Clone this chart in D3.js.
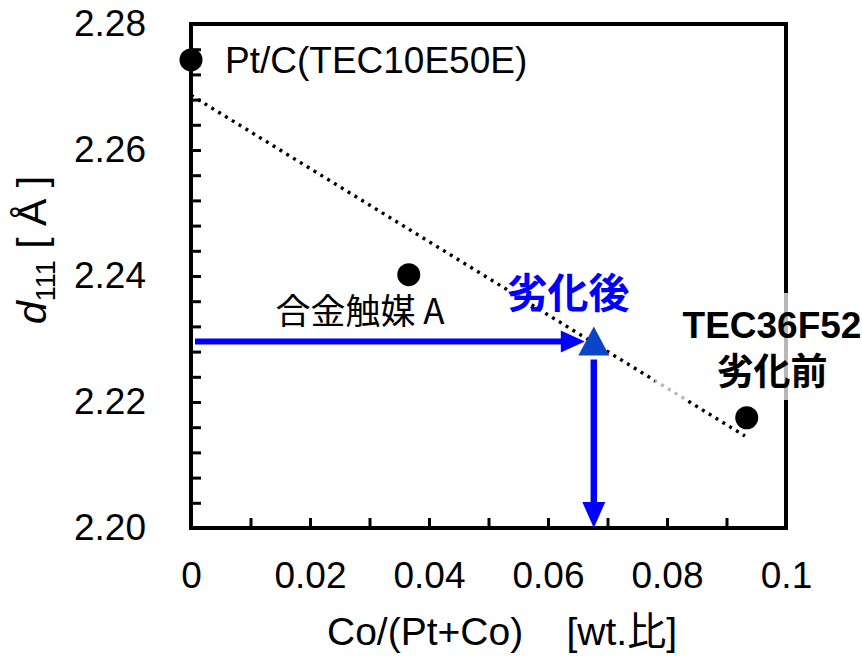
<!DOCTYPE html>
<meta charset="utf-8">
<style>
body { margin: 0; background: #fff; }
text { font-family: "Liberation Sans", Arial, sans-serif; fill: #000; }
.cjk { font-family: "Noto Sans CJK JP", "Liberation Sans", sans-serif; }
.axis text { font-size: 37px; }
.axis line { stroke: #000; stroke-width: 3; }
</style>
<svg width="862" height="656"></svg>
<script src="https://d3js.org/d3.v7.min.js"></script>
<script>

// measured points (black circles)
var pointNames = ["Pt/C(TEC10E50E)", "合金触媒 A", "TEC36F52"];
var pointX = [0, 0.0366, 0.0934];
var pointY = [2.2743, 2.2402, 2.2175];

// degraded sample (blue triangle)
var degradedX = [0.0677];
var degradedY = [2.2296];

// dotted trend line, two ends
var trendX = [0, 0.0931];
var trendY = [2.2687, 2.2146];

var xTicks = [0, 0.01, 0.02, 0.03, 0.04, 0.05, 0.06, 0.07, 0.08, 0.09, 0.1];
var xTickLabels = ["0", "", "0.02", "", "0.04", "", "0.06", "", "0.08", "", "0.1"];
var yTicks = d3.range(0, 21).map(function(i) { return +(2.20 + i * 0.004).toFixed(3); });
var yTickLabels = yTicks.map(function(v, i) { return i % 5 == 0 ? v.toFixed(2) : ""; });

var svg = d3.select("svg"),
    margin = {top: 24, right: 76, bottom: 128, left: 191},
    width = +svg.attr("width") - margin.left - margin.right,
    height = +svg.attr("height") - margin.top - margin.bottom;

var x = d3.scaleLinear().domain([0, 0.1]).range([0, width]);
var y = d3.scaleLinear().domain([2.20, 2.28]).range([height, 0]);

var g = svg.append("g")
    .attr("transform", "translate(" + margin.left + "," + margin.top + ")");

// ticks point inwards, labels sit outside
g.append("g")
    .attr("class", "axis axis--x")
    .attr("transform", "translate(0," + height + ")")
    .call(d3.axisBottom(x).tickValues(xTicks).tickSize(-10).tickSizeOuter(0).tickPadding(34)
      .tickFormat(function(d, i) { return xTickLabels[i]; }))
    .call(function(a) { a.select(".domain").remove(); });

g.append("g")
    .attr("class", "axis axis--y")
    .call(d3.axisLeft(y).tickValues(yTicks).tickSize(-10).tickSizeOuter(0).tickPadding(45)
      .tickFormat(function(d, i) { return yTickLabels[i]; }))
    .call(function(a) { a.select(".domain").remove(); });

g.selectAll(".axis text").attr("fill", "#000");

// frame
g.append("rect")
    .attr("x", 0).attr("y", 0)
    .attr("width", width).attr("height", height)
    .attr("fill", "none").attr("stroke", "#000").attr("stroke-width", 4);

// trend line
g.append("line")
    .attr("x1", x(trendX[0])).attr("y1", y(trendY[0]))
    .attr("x2", x(trendX[1])).attr("y2", y(trendY[1]))
    .attr("stroke", "#000").attr("stroke-width", 3.4)
    .attr("stroke-dasharray", "3 5");

// half-transparent box behind the TEC36F52 label
g.append("rect")
    .attr("x", 464).attr("y", 269).attr("width", 210).attr("height", 107)
    .attr("fill", "#fff").attr("fill-opacity", 0.72);

// black points
g.selectAll(".pt")
    .data(pointX)
  .enter().append("circle")
    .attr("class", "pt")
    .attr("cx", function(d) { return x(d); })
    .attr("cy", function(d, i) { return y(pointY[i]); })
    .attr("r", 11.5)
    .attr("fill", "#000");

// arrows
var tx = x(degradedX[0]), ty = y(degradedY[0]);
var blue = "#0000ff";

g.append("line")
    .attr("x1", x(0) + 4).attr("y1", ty)
    .attr("x2", tx - 30).attr("y2", ty)
    .attr("stroke", blue).attr("stroke-width", 6);
g.append("path")
    .attr("d", "M" + (tx - 9) + "," + ty + "L" + (tx - 33) + "," + (ty - 11) + "L" + (tx - 33) + "," + (ty + 11) + "Z")
    .attr("fill", blue);

g.append("line")
    .attr("x1", tx).attr("y1", ty + 18)
    .attr("x2", tx).attr("y2", y(2.20) - 22)
    .attr("stroke", blue).attr("stroke-width", 6.5);
g.append("path")
    .attr("d", "M" + tx + "," + y(2.20) + "L" + (tx - 11.5) + "," + (y(2.20) - 26) + "L" + (tx + 11.5) + "," + (y(2.20) - 26) + "Z")
    .attr("fill", blue);

// triangle
g.append("path")
    .attr("d", "M" + tx + "," + (ty - 15) + "L" + (tx + 15.5) + "," + (ty + 14) + "L" + (tx - 15.5) + "," + (ty + 14) + "Z")
    .attr("fill", "#0b45c8");

// point labels
g.append("text")
    .attr("x", x(pointX[0]) + 34).attr("y", y(pointY[0]) + 13)
    .style("font-size", "37px")
    .text(pointNames[0]);

g.append("text")
    .attr("class", "cjk")
    .attr("x", 169).attr("y", 300)
    .attr("text-anchor", "middle")
    .style("font-size", "35px")
    .text(pointNames[1]);

g.append("text")
    .attr("x", 581).attr("y", 314)
    .attr("text-anchor", "middle")
    .style("font-size", "37px").style("font-weight", "bold")
    .text(pointNames[2]);

g.append("text")
    .attr("class", "cjk")
    .attr("x", 581).attr("y", 361)
    .attr("text-anchor", "middle")
    .style("font-size", "37px").style("font-weight", "bold")
    .text("劣化前");

g.append("text")
    .attr("class", "cjk")
    .attr("x", 377).attr("y", 284)
    .attr("text-anchor", "middle")
    .style("font-size", "41px").style("font-weight", "bold")
    .style("fill", blue)
    .text("劣化後");

// axis titles
var xt = svg.append("text")
    .attr("x", 502).attr("y", 645)
    .attr("text-anchor", "middle")
    .style("font-size", "39px")
    .attr("xml:space", "preserve");
xt.append("tspan").text("Co/(Pt+Co)    [wt.");
xt.append("tspan").attr("class", "cjk").text("比");
xt.append("tspan").text("]");

var yt = svg.append("text")
    .attr("transform", "translate(46,250) rotate(-90)")
    .attr("text-anchor", "middle")
    .style("font-size", "41px");
yt.append("tspan").style("font-style", "italic").text("d");
yt.append("tspan").attr("dy", 9).style("font-size", "27px").text("111");
yt.append("tspan").attr("dy", -9).text(" [ Å ]");

</script>
